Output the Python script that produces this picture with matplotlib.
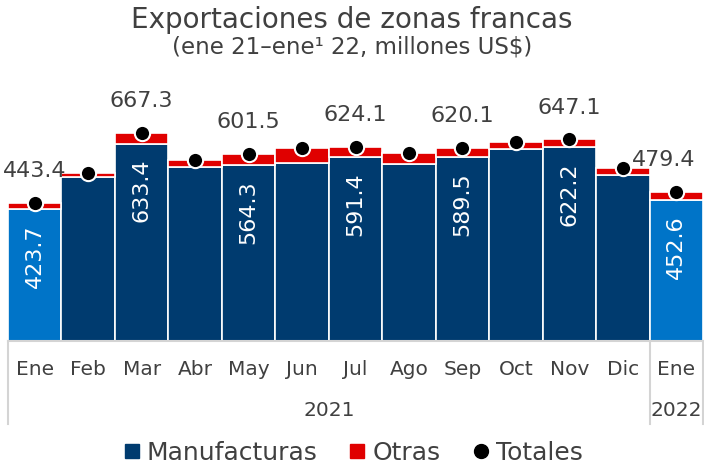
import matplotlib
matplotlib.use("Agg")
import matplotlib.pyplot as plt
from matplotlib.lines import Line2D
import numpy as np

months = ["Ene", "Feb", "Mar", "Abr", "May", "Jun", "Jul", "Ago", "Sep", "Oct", "Nov", "Dic", "Ene"]
years = ["2021", "2022"]
manufacturas = [423.7, 525.0, 633.4, 558.0, 564.3, 571.0, 591.4, 569.0, 589.5, 615.0, 622.2, 533.0, 452.6]
totales = [443.4, 540.0, 667.3, 581.0, 601.5, 620.0, 624.1, 603.0, 620.1, 638.0, 647.1, 556.0, 479.4]
labeled = [True, False, True, False, True, False, True, False, True, False, True, False, True]

otras = [t - m for t, m in zip(totales, manufacturas)]

DARK = "#003B6F"
LIGHT = "#0074C8"
RED = "#E00000"
GRAY = "#404040"
LINE = "#D4D4D4"

fig = plt.figure(figsize=(7.04, 4.65), dpi=100)
ax = fig.add_axes([8/704, (465-340.7)/465, 695/704, 248.8/465])

x = np.arange(len(months))
colors = [LIGHT if i in (0, len(months)-1) else DARK for i in x]
ax.bar(x, manufacturas, width=1.0, color=colors, edgecolor="white", linewidth=1.2)
ax.bar(x, otras, bottom=manufacturas, width=1.0, color=RED, edgecolor="white", linewidth=1.2)
ax.plot(x, totales, "o", color="black", markersize=11, markeredgecolor="white",
        markeredgewidth=1.5, zorder=5)

for i in x:
    if labeled[i]:
        xo = -9 if i == len(months)-1 else 0
        ax.annotate(f"{totales[i]:.1f}", (i, totales[i]), xytext=(xo, 23),
                    textcoords="offset points", ha="center", va="center",
                    fontsize=16, color=GRAY, annotation_clip=False)
        ax.annotate(f"{manufacturas[i]:.1f}", (i, manufacturas[i]), xytext=(0, -11),
                    textcoords="offset points", ha="center", va="top", rotation=90,
                    fontsize=16, color="white")

ax.set_xlim(-0.5, len(months) - 0.5)
ax.set_ylim(0, 800)
ax.set_xticks([])
ax.set_yticks([])
for s in ["top", "left", "right"]:
    ax.spines[s].set_visible(False)
ax.spines["bottom"].set_color(LINE)
ax.spines["bottom"].set_linewidth(1.5)

trans = ax.get_xaxis_transform()
for i, m in enumerate(months):
    ax.text(i, -0.114, m, transform=trans, ha="center", va="center",
            fontsize=14.5, color=GRAY)
ax.text(5.5, -0.279, years[0], transform=trans, ha="center", va="center",
        fontsize=14.5, color=GRAY)
ax.text(12, -0.279, years[1], transform=trans, ha="center", va="center",
        fontsize=14.5, color=GRAY)
for xv in (-0.5, 11.5, 12.5):
    ax.plot([xv, xv], [0, -0.335], transform=trans, color=LINE, lw=1.5, clip_on=False)

fig.text(0.5, 1 - 20/465, "Exportaciones de zonas francas", ha="center", va="center",
         fontsize=20, color=GRAY)
fig.text(0.5, 1 - 47/465, "(ene 21\u2013ene\u00b9 22, millones US$)", ha="center", va="center",
         fontsize=16.5, color=GRAY)

handles = [
    Line2D([], [], marker="s", color=DARK, linestyle="none", markersize=10),
    Line2D([], [], marker="s", color=RED, linestyle="none", markersize=10),
    Line2D([], [], marker="o", color="black", linestyle="none", markersize=10),
]
leg = fig.legend(handles, ["Manufacturas", "Otras", "Totales"], loc="center",
                 bbox_to_anchor=(0.5, 1 - 453/465), ncol=3, frameon=False,
                 fontsize=18, handlelength=0.8, handletextpad=0.2, columnspacing=1.2)
for t in leg.get_texts():
    t.set_color(GRAY)

fig.savefig("out.png", dpi=100)
